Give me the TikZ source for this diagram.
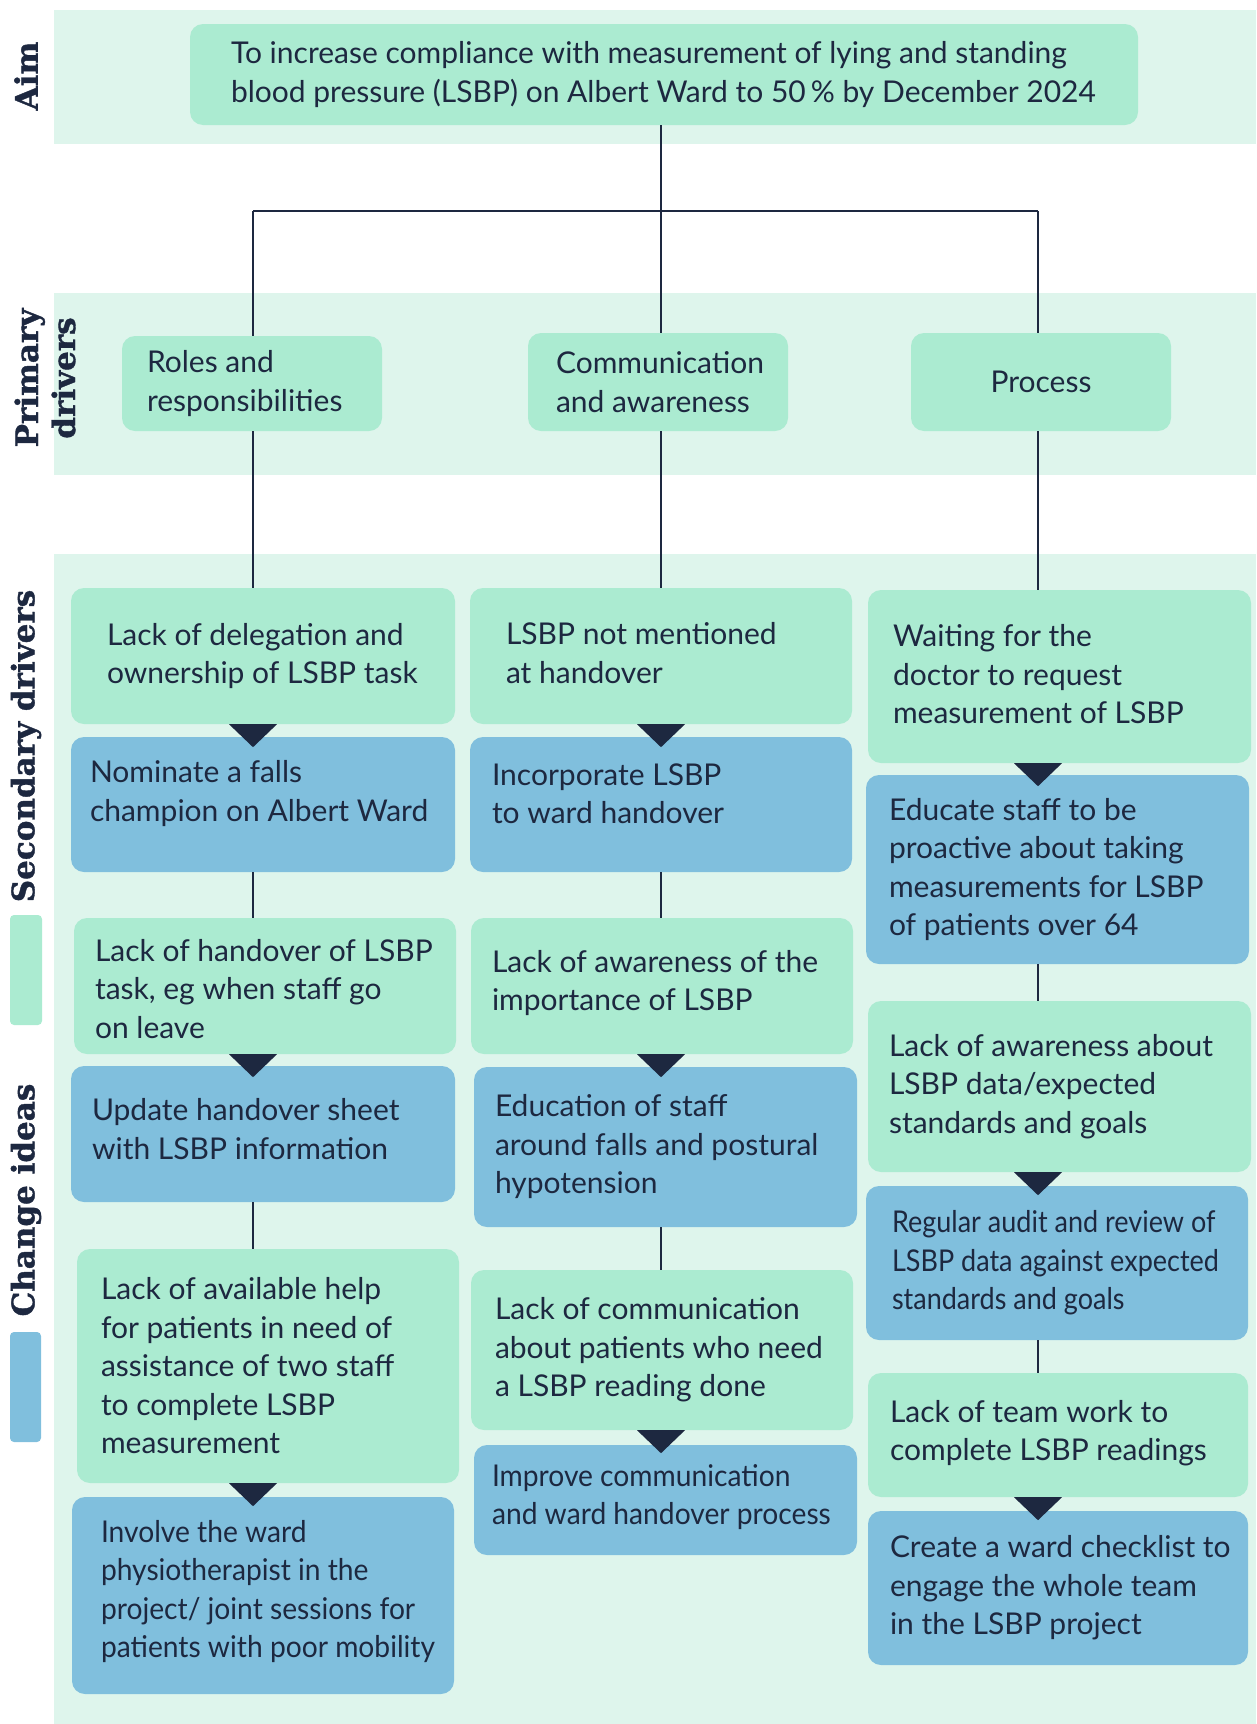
\documentclass[tikz,border=0pt]{standalone}
\usepackage{fontspec}
\setmainfont{Lato}
\newfontfamily\slabfont{DejaVu Serif Bold}[FakeBold=1.2]
\definecolor{cBand}{HTML}{DEF5EC}
\definecolor{cGreen}{HTML}{ABEBD1}
\definecolor{cBlue}{HTML}{80BFDD}
\definecolor{cNavy}{HTML}{1D2840}
\tikzset{
  box/.style={rounded corners=13pt, inner sep=0pt, draw=none},
  gb/.style={box, fill=cGreen},
  bb/.style={box, fill=cBlue},
  txt/.style={align=left, inner sep=0pt, text=cNavy, font=\fontsize{30}{38.5}\selectfont},
  cond/.style={font=\fontsize{30}{38.5}\selectfont\addfontfeature{FakeStretch=0.9}},
  semi/.style={font=\fontsize{30}{38.5}\selectfont\addfontfeature{FakeStretch=0.94}},
  conn/.style={draw=cNavy, line width=2pt},
  lab/.style={inner sep=0pt, text=cNavy, font=\slabfont\fontsize{31}{37}\selectfont},
}
\newcommand\mkbox[9]{%
  \node[#2, minimum width=#5pt, minimum height=#6pt] (#1) at (#3,#4) {};
  \node[txt, anchor=west] (#1t) at ([xshift=#7pt, yshift=#8pt]#1.west) {#9};
}
\begin{document}
\begin{tikzpicture}[x=1pt, y=-1pt]
\useasboundingbox (0,0) rectangle (1256,1724);
% bands
\fill[cBand] (54,10) rectangle (1256,144);
\fill[cBand] (54,293) rectangle (1256,475);
\fill[cBand] (54,554) rectangle (1256,1724);
% legend
\fill[cGreen, rounded corners=4pt] (10,915) rectangle (42,1025);
\fill[cBlue, rounded corners=4pt] (10,1332) rectangle (41,1442);
% labels
\node[lab, rotate=90] (labAim) at (26,76) {Aim};
\node[lab, rotate=90, align=center] (labPrim) at (45,378) {Primary\\drivers};
\node[lab, rotate=90] (labSec) at (26,746) {Secondary drivers};
\node[lab, rotate=90] (labCh) at (26,1200) {Change ideas};
% column coordinates
\coordinate (c1) at (253,0);
\coordinate (c2) at (661,0);
\coordinate (c3) at (1038,0);
\coordinate (hj) at (661,211);
% aim
\mkbox{aim}{gb}{664}{74.5}{948}{101}{41}{0}{To increase compliance with measurement of lying and standing\\blood pressure (LSBP) on Albert Ward to 50\,\% by December 2024}
% primary
\mkbox{roles}{gb}{252}{383.5}{260}{95}{25}{0}{Roles and\\responsibilities}
\mkbox{comm}{gb}{658}{382}{260}{98}{28}{0}{Communication\\and awareness}
\node[gb, minimum width=260pt, minimum height=98pt] (proc) at (1041,382) {};
\node[txt] (proct) at (proc.center) {Process};
% column 1
\mkbox{s11}{gb}{263}{656}{384}{136}{36}{0}{Lack of delegation and\\ownership of LSBP task}
\mkbox{s12}{bb}{263}{804.5}{384}{135}{19}{11}{Nominate a falls\\champion on Albert Ward}
\mkbox{s13}{gb}{265}{986}{382}{136}{21}{-3}{Lack of handover of LSBP\\task, eg when staff go\\on leave}
\mkbox{s14}{bb}{263}{1134}{384}{136}{21}{5}{Update handover sheet\\with LSBP information}
\mkbox{s15}{gb}{268}{1366}{382}{234}{24}{0}{Lack of available help\\for patients in need of\\assistance of two staff\\to complete LSBP\\measurement}
\node[bb, minimum width=382pt, minimum height=197pt] (s16) at (263,1595.5) {};
\node[txt, semi, anchor=west] (s16t) at ([xshift=29pt, yshift=4pt]s16.west) {Involve the ward\\physiotherapist in the\\project/ joint sessions for\\patients with poor mobility};
% column 2
\mkbox{s21}{gb}{661}{656}{382}{136}{36}{3}{LSBP not mentioned\\at handover}
\mkbox{s22}{bb}{661}{804.5}{382}{135}{22}{11}{Incorporate LSBP\\to ward handover}
\mkbox{s23}{gb}{662}{986}{382}{136}{21}{3}{Lack of awareness of the\\importance of LSBP}
\mkbox{s24}{bb}{665.5}{1147}{383}{160}{21}{0}{Education of staff\\around falls and postural\\hypotension}
\mkbox{s25}{gb}{662}{1350}{382}{160}{24}{0}{Lack of communication\\about patients who need\\a LSBP reading done}
\node[bb, minimum width=383pt, minimum height=110pt] (s26) at (665.5,1500) {};
\node[txt, semi, anchor=west] (s26t) at ([xshift=18pt, yshift=3pt]s26.west) {Improve communication\\and ward handover process};
% column 3
\mkbox{s31}{gb}{1059.5}{676.5}{383}{173}{25}{2}{Waiting for the\\doctor to request\\measurement of LSBP}
\mkbox{s32}{bb}{1057.5}{869.5}{383}{189}{23}{0}{Educate staff to be\\proactive about taking\\measurements for LSBP\\of patients over 64}
\mkbox{s33}{gb}{1059.5}{1086.5}{383}{171}{21}{0}{Lack of awareness about\\LSBP data/expected\\standards and goals}
\node[bb, minimum width=382pt, minimum height=154pt] (s34) at (1057,1263) {};
\node[txt, cond, anchor=west] (s34t) at ([xshift=26pt]s34.west) {Regular audit and review of\\LSBP data against expected\\standards and goals};
\mkbox{s35}{gb}{1058}{1435}{380}{124}{22}{2}{Lack of team work to\\complete LSBP readings}
\mkbox{s36}{bb}{1058}{1588}{380}{154}{22}{0}{Create a ward checklist to\\engage the whole team\\in the LSBP project}
% connectors top
\draw[conn] (aim.south -| c2) -- (comm.north -| c2);
\draw[conn, line width=2.8pt] (c1 |- hj) -- (c3 |- hj);
\draw[conn] (roles.north -| c1) -- (c1 |- hj);
\draw[conn] (proc.north -| c3) -- (c3 |- hj);
\draw[conn] (roles.south -| c1) -- (s11.north -| c1);
\draw[conn] (comm.south -| c2) -- (s21.north -| c2);
\draw[conn] (proc.south -| c3) -- (s31.north -| c3);
% connectors between blocks
\draw[conn] (s12.south -| c1) -- (s13.north -| c1);
\draw[conn] (s14.south -| c1) -- (s15.north -| c1);
\draw[conn] (s22.south -| c2) -- (s23.north -| c2);
\draw[conn] (s24.south -| c2) -- (s25.north -| c2);
\draw[conn] (s32.south -| c3) -- (s33.north -| c3);
\draw[conn] (s34.south -| c3) -- (s35.north -| c3);
% triangles
\foreach \a/\c in {s11/c1, s13/c1, s15/c1, s21/c2, s23/c2, s25/c2, s31/c3, s33/c3, s35/c3}{
  \fill[cNavy] (\a.south -| \c) ++(-24,0) -- ++(48,0) -- ++(-24,23) -- cycle;
}
\end{tikzpicture}
\end{document}
